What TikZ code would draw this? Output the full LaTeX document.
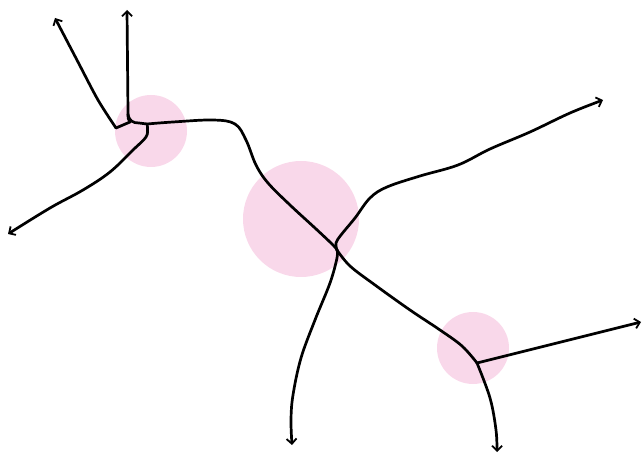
\documentclass[tikz,border=0pt]{standalone}
\usetikzlibrary{arrows.meta}
\definecolor{blob}{RGB}{249,216,234}
\begin{document}
\begin{tikzpicture}[x=1pt,y=-1pt,
  branch/.style={line width=2.7pt,black,line cap=round,line join=round},
  tip/.style={-{Straight Barb[length=5pt,width=10pt,line width=1.8pt]}},
  spot/.style={fill=blob,draw=none}]
\useasboundingbox (0,0) rectangle (643,457);
% pink spots
\fill[blob] (151,131) circle[radius=36];
\fill[blob] (301,219) circle[radius=58];
\fill[blob] (473,348) circle[radius=36];
% named points
\coordinate (elbow) at (116,128);
\coordinate (ja) at (130,122);
\coordinate (jb) at (147,124);
\coordinate (jc) at (337,250);
\coordinate (jd) at (477,363);
\coordinate (endNW) at (55,18);
\coordinate (endN) at (127,10);
\coordinate (endW) at (8,234);
\coordinate (endNE) at (603,100);
\coordinate (endS) at (292,445);
\coordinate (endE) at (641,322);
\coordinate (endSE) at (497,452);
% branches around first spot
\draw[branch,tip] plot[smooth,tension=0.5] coordinates {(elbow) (98,100) (78,62) (endNW)};
\draw[branch] (elbow) -- (ja);
\draw[branch,tip] (ja) .. controls (128,119) .. (128,112) -- (endN);
\draw[branch] (128,114) .. controls (129,121) and (133,123) .. (139,123) -- (jb);
\draw[branch,tip] plot[smooth,tension=0.6] coordinates {(jb) (147.5,128) (146,137) (133,150) (110,172) (83,190) (50,208) (endW)};
% main trunk
\draw[branch] plot[smooth,tension=0.6] coordinates {(jb) (173,122) (213,120) (235,124) (246,140) (256,165) (268,183) (290,205) (315,228) (333,245) (jc)};
\draw[branch] plot[smooth,tension=0.6] coordinates {(jc) (350,266) (375,285) (410,310) (440,330) (462,346) (jd)};
% branches at second spot
\draw[branch,tip] plot[smooth,tension=0.6] coordinates {(jc) (336,243) (341,235) (355,218) (370,198) (387,187) (420,176) (458,165) (490,149) (530,132) (570,113) (endNE)};
\draw[branch,tip] plot[smooth,tension=0.6] coordinates {(jc) (337,258) (330,283) (315,320) (301,358) (293,395) (291,420) (endS)};
% branches at third spot
\draw[branch,tip] (jd) -- (endE);
\draw[branch,tip] plot[smooth,tension=0.6] coordinates {(jd) (490,398) (496,430) (endSE)};
\end{tikzpicture}
\end{document}
